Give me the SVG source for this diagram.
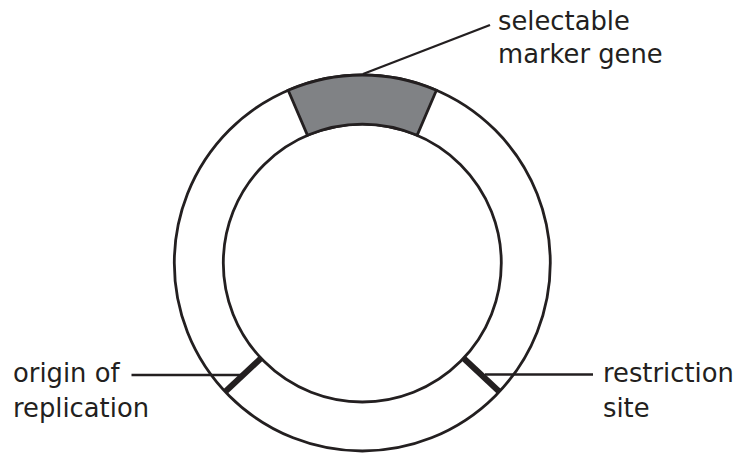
<svg xmlns="http://www.w3.org/2000/svg" width="739" height="455" viewBox="0 0 739 455">
<style>
.ring{fill:#ffffff;stroke:#231f20;stroke-width:2.8}
.seg{fill:#808285;stroke:#231f20;stroke-width:2.8;stroke-linejoin:miter}
.site{stroke:#231f20;stroke-width:6;stroke-linecap:butt}
.lead{stroke:#231f20;stroke-width:2.4;fill:none}
.lbl{font-family:"DejaVu Sans",sans-serif;font-size:25.8px;fill:#231f20}
</style>
<rect width="739" height="455" fill="#ffffff"/>
<g id="plasmid">
<circle class="ring" cx="362.3" cy="263" r="188"/>
<circle class="ring" cx="362.3" cy="263" r="139"/>
</g>
<g id="selectable-marker-gene">
<path class="seg" d="M288.2,90.2 A188,188 0 0 1 436.4,90.2 L417.1,135.3 A139,139 0 0 0 307.5,135.3 Z"/>
<text class="lbl" x="498" y="30">selectable</text>
<text class="lbl" x="498" y="63">marker gene</text>
</g>
<g id="origin-of-replication">
<line class="site" x1="261" y1="358.2" x2="225.2" y2="391.8"/>
<text class="lbl" x="13" y="382">origin of</text>
<text class="lbl" x="13" y="417">replication</text>
</g>
<g id="restriction-site">
<line class="site" x1="463.6" y1="358.2" x2="499.4" y2="391.8"/>
<text class="lbl" x="603" y="382">restriction</text>
<text class="lbl" x="603" y="417">site</text>
</g>
<g id="connectors">
<line class="lead" x1="363" y1="74" x2="490" y2="25"/>
<line class="lead" x1="131.5" y1="375" x2="243" y2="375"/>
<line class="lead" x1="485" y1="374.5" x2="593" y2="374.5"/>
</g>
</svg>
